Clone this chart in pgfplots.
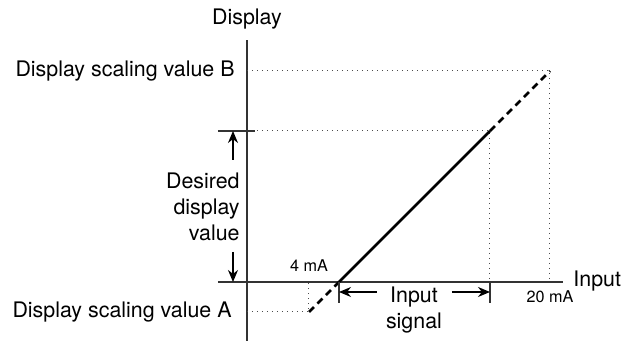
\documentclass[border=0pt]{standalone}
\usepackage{pgfplots}
\pgfplotsset{compat=1.18}
\usepackage{fontspec}
\setmainfont{TeX Gyre Heros}
\usetikzlibrary{arrows.meta}

% points of the scaling line (units: 1 = one pixel of the reference)
\pgfplotstableread{
x y
62 -30
92 0
}\lowpart
\pgfplotstableread{
x y
92 0
243 151
}\midpart
\pgfplotstableread{
x y
243 151
303 211
}\highpart

\begin{document}
\begin{tikzpicture}[font=\fontsize{10.7}{13}\selectfont]
\begin{axis}[
  x=0.5pt, y=0.5pt,
  xmin=-29, xmax=316,
  ymin=-59, ymax=242,
  axis lines=middle,
  axis line style={-, line width=0.75pt, black!80},
  ticks=none,
  clip=false,
]
% guide lines
\addplot[dotted, line width=0.5pt, black!70] coordinates {(0,211) (303,211) (303,0)};
\addplot[dotted, line width=0.5pt, black!70] coordinates {(0,151) (243,151) (243,0)};
\addplot[dotted, line width=0.5pt, black!70] coordinates {(0,-30) (62,-30) (62,0)};

% scaling line
\addplot[line width=1.3pt, dash pattern=on 3.5pt off 2.5pt] table {\lowpart};
\addplot[line width=1.3pt] table {\midpart};
\addplot[line width=1.3pt, dash pattern=on 3.5pt off 2.5pt] table {\highpart};

% range marks
\addplot[line width=0.75pt, black!80] coordinates {(-29,151) (8,151)};
\addplot[line width=0.75pt, black!80] coordinates {(92,0) (92,-21)};
\addplot[line width=0.75pt, black!80] coordinates {(243,0) (243,-21)};

% arrows
\draw[-{Stealth[length=6pt,width=5pt]}, line width=0.6pt] (axis cs:-14,122) -- (axis cs:-14,151);
\draw[-{Stealth[length=6pt,width=5pt]}, line width=0.6pt] (axis cs:-14,30) -- (axis cs:-14,0);
\draw[-{Stealth[length=6pt,width=5pt]}, line width=0.6pt] (axis cs:130,-10) -- (axis cs:92,-10);
\draw[-{Stealth[length=6pt,width=5pt]}, line width=0.6pt] (axis cs:205,-10) -- (axis cs:243,-10);

% labels
\node[anchor=base] at (axis cs:0,257) {Display};
\node[anchor=base west, inner sep=0pt] at (axis cs:326,-5) {Input};
\node[anchor=east, inner sep=0pt] at (axis cs:-12,211) {Display scaling value B};
\node[anchor=east, inner sep=0pt] at (axis cs:-15,-30) {Display scaling value A};
\node[anchor=east, align=right, inner sep=0pt] at (axis cs:-7,75) {Desired\\display\\value};
\node[align=center, inner sep=0pt] at (axis cs:167,-28) {Input\\signal};
\node[font=\fontsize{8.1}{10}\selectfont] at (axis cs:62,16) {4 mA};
\node[font=\fontsize{8.1}{10}\selectfont] at (axis cs:303,-15) {20 mA};

\coordinate (bl) at (axis cs:-247,-59);
\coordinate (tr) at (axis cs:375,282);
\end{axis}
\pgfresetboundingbox
\path (bl) rectangle (tr);
\end{tikzpicture}
\end{document}
